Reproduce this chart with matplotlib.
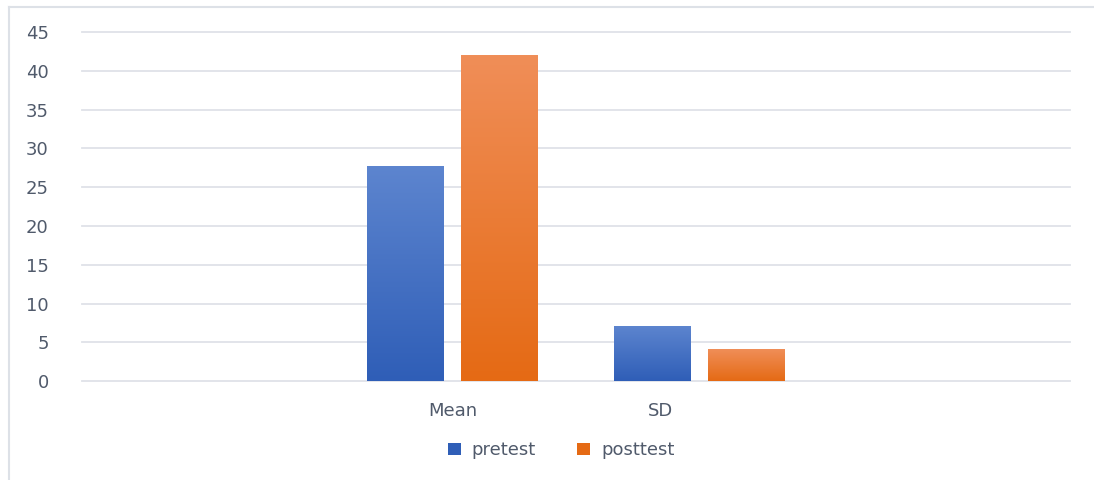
import numpy as np
import matplotlib.pyplot as plt
import matplotlib.transforms as mtransforms
from matplotlib.colors import LinearSegmentedColormap
from matplotlib.patches import Patch
from matplotlib.lines import Line2D

# data
categories = ["", "Mean", "SD", ""]
pretest = [0, 27.8, 7.1, 0]
posttest = [0, 42.0, 4.1, 0]
series_names = ["pretest", "posttest"]

text_color = "#505a6b"
grid_color = "#dfe2e8"
blue_top, blue_bottom = "#5d85cf", "#2f5eb7"
orange_top, orange_bottom = "#f08e58", "#e56a14"

plt.rcParams["font.family"] = ["DejaVu Sans"]

fig = plt.figure(figsize=(10.94, 4.80), dpi=100)
ax = fig.add_axes([0.075, 0.206, 0.903, 0.727])

x = np.arange(len(categories))
width = 0.31
offset = 0.19


def gradient_bars(xpos, values, top, bottom):
    cmap = LinearSegmentedColormap.from_list("g", [bottom, top])
    bars = ax.bar(xpos, values, width, color="none", edgecolor="none")
    grad = np.linspace(0, 1, 256).reshape(-1, 1)
    for b in bars:
        h = b.get_height()
        if h <= 0:
            continue
        x0 = b.get_x()
        im = ax.imshow(grad, cmap=cmap, origin="lower", aspect="auto",
                       extent=[x0, x0 + b.get_width(), 0, h], zorder=2)
        im.set_clip_path(b)
    return bars


gradient_bars(x - offset, pretest, blue_top, blue_bottom)
gradient_bars(x + offset, posttest, orange_top, orange_bottom)

ax.set_xlim(-0.5, len(categories) - 0.5)
ax.set_ylim(0, 45)
ax.set_yticks(np.arange(0, 46, 5))
ax.yaxis.grid(True, color=grid_color, linewidth=1.3)
for gl in ax.yaxis.get_gridlines():
    gl.set_clip_on(False)
ax.set_axisbelow(True)
for s in ax.spines.values():
    s.set_visible(False)

ax.set_xticks(x)
ax.set_xticklabels(categories)
ax.tick_params(axis="both", length=0, labelsize=13, colors=text_color)
ax.tick_params(axis="y", pad=24)
ax.tick_params(axis="x", pad=15)

# the SD label sits a bit left of its bars in the original
lbl = ax.get_xticklabels()[2]
lbl.set_transform(lbl.get_transform() +
                  mtransforms.ScaledTranslation(-0.39, 0, fig.dpi_scale_trans))

handles = [Patch(facecolor=blue_bottom), Patch(facecolor=orange_bottom)]
fig.legend(handles, series_names, loc="center", bbox_to_anchor=(0.513, 0.062),
           ncol=2, frameon=False, fontsize=13, labelcolor=text_color,
           handlelength=0.7, handleheight=0.7, handletextpad=0.6,
           columnspacing=2.3)

# light frame like the original chart border
fig.add_artist(Line2D([0.008, 0.999], [0.985, 0.985], transform=fig.transFigure,
                      color="#dde1e7", linewidth=1.5))
fig.add_artist(Line2D([0.008, 0.008], [0.0, 0.985], transform=fig.transFigure,
                      color="#dde1e7", linewidth=1.5))

fig.savefig("out.png", dpi=100)
